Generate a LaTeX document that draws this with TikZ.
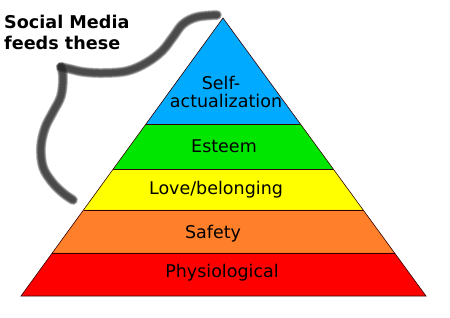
\documentclass[tikz,border=0pt]{standalone}
\usepackage{fontspec}
\setmainfont{DejaVu Sans}
\usetikzlibrary{calc}
\definecolor{cself}{RGB}{0,170,255}
\definecolor{cest}{RGB}{0,230,0}
\definecolor{clove}{RGB}{255,255,0}
\definecolor{csafe}{RGB}{255,127,42}
\definecolor{cphys}{RGB}{255,0,0}
\definecolor{cbrush}{RGB}{40,40,40}
\tikzset{
  band/.style={draw=black!80!red, line width=0.6pt, line join=miter},
  lbl/.style={font=\fontsize{17.5}{18}\selectfont, text=black, inner sep=0pt, anchor=base},
  note/.style={font=\bfseries\fontsize{17.6}{21}\selectfont, text=black, inner sep=0pt, align=left, anchor=north west},
  brushlayer/.style={draw=cbrush, opacity=0.26, line width=#1, line cap=round, line join=round},
}
\begin{document}
\begin{tikzpicture}[x=1pt,y=-1pt]
\fill[white] (0,0) rectangle (450,318);
\useasboundingbox (0,0) rectangle (450,318);
\coordinate (A) at (223,18);
\coordinate (BL) at (21,296);
\coordinate (BR) at (426,296);
\coordinate (L1) at ($(A)!0.3813!(BL)$);
\coordinate (R1) at ($(A)!0.3813!(BR)$);
\coordinate (L2) at ($(A)!0.5432!(BL)$);
\coordinate (R2) at ($(A)!0.5432!(BR)$);
\coordinate (L3) at ($(A)!0.6906!(BL)$);
\coordinate (R3) at ($(A)!0.6906!(BR)$);
\coordinate (L4) at ($(A)!0.8453!(BL)$);
\coordinate (R4) at ($(A)!0.8453!(BR)$);
\fill[cself] (A) -- (R1) -- (L1) -- cycle;
\fill[cest] (L1) -- (R1) -- (R2) -- (L2) -- cycle;
\fill[clove] (L2) -- (R2) -- (R3) -- (L3) -- cycle;
\fill[csafe] (L3) -- (R3) -- (R4) -- (L4) -- cycle;
\fill[cphys] (L4) -- (R4) -- (BR) -- (BL) -- cycle;
\draw[band] (A) -- (BR) -- (BL) -- cycle;
\draw[band] (L1) -- (R1) (L2) -- (R2) (L3) -- (R3) (L4) -- (R4);
\node[lbl] (self1) at (221,90) {Self-};
\node[lbl] (self2) at (226,108) {actualization};
\node[lbl] (est) at (224,153) {Esteem};
\node[lbl] (love) at (216,194) {Love/belonging};
\node[lbl] (safe) at (213,238) {Safety};
\node[lbl] (phys) at (222,277) {Physiological};
\node[note] (sm) at (4,15) {Social Media\\feeds these};
\coordinate (bs) at (217,15);
\coordinate (bk) at (61,67);
\coordinate (be) at (73,200);
\foreach \w in {10pt,9pt,8pt,7pt,6pt,5pt}{
  \draw[brushlayer=\w] plot[smooth, tension=0.6] coordinates {(bs) (197,17) (183,24) (173,37) (162,51) (146,63) (127,71) (104,73) (84,72) (70,69) (bk)};
  \draw[brushlayer=\w] plot[smooth, tension=0.6] coordinates {(bk) (63,77) (61,96) (53,112) (45,128) (41,147) (43,167) (52,182) (63,193) (be)};
}
\end{tikzpicture}
\end{document}
